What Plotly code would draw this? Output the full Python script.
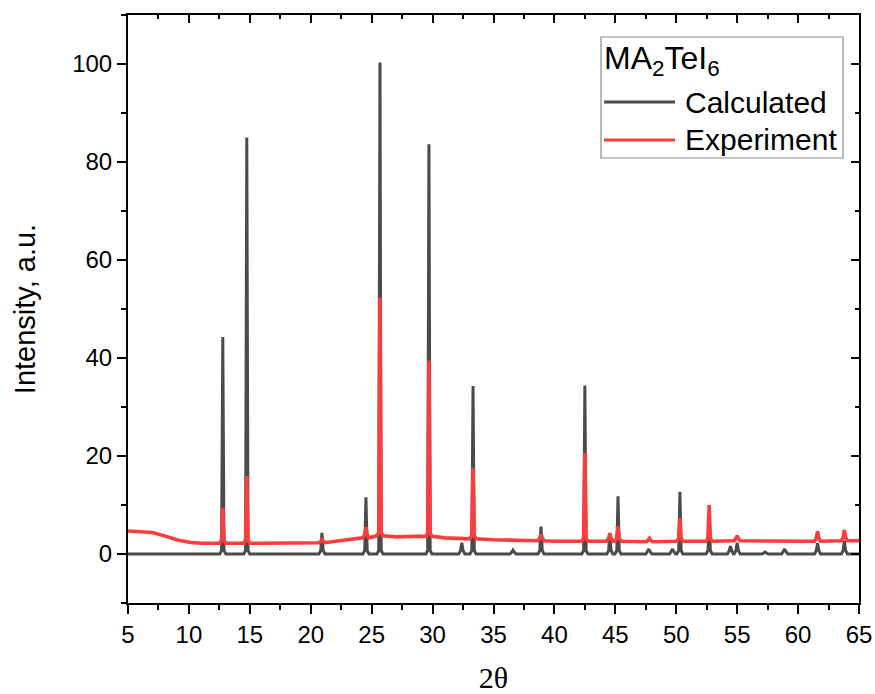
import plotly.graph_objects as go

# Calculated pattern: reflection positions (2θ, deg) and relative intensities
calc_pos = [12.78, 14.75, 20.92, 24.53, 25.68, 29.70, 32.40, 33.32, 36.60, 38.90,
            42.50, 44.55, 45.22, 47.75, 49.70, 50.30, 52.70, 54.45, 55.00, 57.30,
            58.90, 61.60, 63.80]
calc_int = [44.3, 85.0, 4.3, 11.6, 100.3, 83.6, 2.3, 34.3, 0.8, 5.6,
            34.4, 4.3, 11.8, 1.0, 1.0, 12.7, 7.3, 1.6, 2.3, 0.4,
            1.0, 2.2, 2.7]

# Experimental pattern: background level and observed peaks
bg_x = [5, 6, 7, 8, 9, 10, 11, 13, 16, 19, 21, 23, 24, 27, 28.5, 31, 35, 37, 40,
        44, 47, 50, 55, 60, 65]
bg_y = [4.7, 4.6, 4.4, 3.7, 2.9, 2.4, 2.2, 2.2, 2.2, 2.3, 2.5, 2.9, 3.2, 3.5, 3.6,
        3.3, 2.9, 2.7, 2.6, 2.6, 2.5, 2.6, 2.7, 2.6, 2.7]
exp_pos = [12.78, 14.75, 20.92, 24.53, 25.68, 29.70, 33.32, 38.90, 42.50, 44.55,
           45.22, 47.80, 50.30, 52.70, 55.00, 61.60, 63.80]
exp_int = [9.4, 15.9, 2.9, 5.5, 52.3, 39.5, 17.5, 4.0, 20.6, 4.2,
           5.7, 3.2, 7.3, 10.0, 3.7, 4.6, 4.9]
exp_base = [2.2, 2.2, 2.3, 3.3, 3.7, 3.6, 3.1, 2.7, 2.6, 2.6,
            2.6, 2.5, 2.6, 2.6, 2.7, 2.6, 2.7]

x_ticks = [5, 10, 15, 20, 25, 30, 35, 40, 45, 50, 55, 60, 65]
y_ticks = [0, 20, 40, 60, 80, 100]

FOOT = 0.25      # half-width of a peak at its base, deg
SHOULDER = 0.1   # half-width where the peak foot turns upward, deg


def peak_vertices(pos, top, base):
    lift = min(0.7, 0.5 * (top - base))
    return [(pos - FOOT, base), (pos - SHOULDER, base + lift), (pos, top),
            (pos + SHOULDER, base + lift), (pos + FOOT, base)]


def profile(positions, tops, bases, line_x, line_y):
    pts = [(x, y) for x, y in zip(line_x, line_y)
           if all(abs(x - p) > FOOT for p in positions)]
    for p, t, b in zip(positions, tops, bases):
        pts.extend(peak_vertices(p, t, b))
    pts.sort(key=lambda v: v[0])
    return [v[0] for v in pts], [v[1] for v in pts]


cx, cy = profile(calc_pos, calc_int, [0] * len(calc_pos), [5, 65], [0, 0])
ex, ey = profile(exp_pos, exp_int, exp_base, bg_x, bg_y)

GRAY = "#4b4b4b"
RED = "#fb3d3d"

fig = go.Figure()
fig.add_trace(go.Scatter(x=cx, y=cy, mode="lines", name="Calculated",
                         line=dict(color=GRAY, width=3), showlegend=False))
fig.add_trace(go.Scatter(x=ex, y=ey, mode="lines", name="Experiment",
                         line=dict(color=RED, width=3.6), showlegend=False))
# empty trace that carries the mirrored top/right axes
fig.add_trace(go.Scatter(x=[], y=[], xaxis="x2", yaxis="y2", showlegend=False))

axis_common = dict(showgrid=False, zeroline=False, showline=True, automargin=False,
                   linecolor="black", linewidth=2, tickcolor="black", tickwidth=2)

fig.update_layout(
    width=875, height=694,
    margin=dict(l=128, r=16, t=15, b=91),
    paper_bgcolor="white", plot_bgcolor="white",
    font=dict(family="Liberation Sans, Arial, sans-serif", color="black"),
    xaxis=dict(range=[5, 65], tickvals=x_ticks, ticks="outside", ticklen=9,
               minor=dict(dtick=2.5, tick0=5, ticklen=5, tickwidth=2,
                          tickcolor="black", ticks="outside"),
               tickfont=dict(size=24, family="Liberation Sans Narrow, Liberation Sans, Arial"),
               title=dict(text="2θ", standoff=22,
                          font=dict(size=30, family="Liberation Serif, Times New Roman, serif")),
               **axis_common),
    yaxis=dict(range=[-10, 110], tickvals=y_ticks, ticks="outside", ticklen=9,
               minor=dict(dtick=10, tick0=0, ticklen=5, tickwidth=2,
                          tickcolor="black", ticks="outside"),
               tickfont=dict(size=24),
               title=dict(text="Intensity, a.u.", standoff=28, font=dict(size=29)),
               **axis_common),
    xaxis2=dict(range=[5, 65], overlaying="x", side="top", anchor="y",
                tickvals=x_ticks, ticks="inside", ticklen=8, showticklabels=False,
                minor=dict(dtick=2.5, tick0=5, ticklen=4, tickwidth=2,
                           tickcolor="black", ticks="inside"),
                **axis_common),
    yaxis2=dict(range=[-10, 110], overlaying="y", side="right", anchor="x",
                tickvals=y_ticks, ticks="inside", ticklen=8, showticklabels=False,
                minor=dict(dtick=10, tick0=0, ticklen=4, tickwidth=2,
                           tickcolor="black", ticks="inside"),
                **axis_common),
)

# legend box with title and line samples
px_w, px_h = 731.0, 588.0


def px_to_paper(x, y):
    return (x - 128) / px_w, (603 - y) / px_h


bx0, by0 = px_to_paper(601, 158)
bx1, by1 = px_to_paper(843, 37)
fig.add_shape(type="rect", xref="paper", yref="paper", x0=bx0, y0=by0, x1=bx1, y1=by1,
              line=dict(color="#8c8c8c", width=1.2), fillcolor="white", layer="above")

legend_rows = [("Calculated", GRAY, 102), ("Experiment", RED, 140)]
for label, color, row_y in legend_rows:
    lx0, ly = px_to_paper(604, row_y)
    lx1, _ = px_to_paper(675, row_y)
    tx, _ = px_to_paper(683, row_y)
    fig.add_shape(type="line", xref="paper", yref="paper", x0=lx0, x1=lx1, y0=ly, y1=ly,
                  line=dict(color=color, width=3), layer="above")
    fig.add_annotation(xref="paper", yref="paper", x=tx, y=ly, text=label,
                       xanchor="left", yanchor="middle", showarrow=False,
                       font=dict(size=30, color="black"))

ttx, tty = px_to_paper(602, 60)
fig.add_annotation(xref="paper", yref="paper", x=ttx, y=tty,
                   text="MA<sub>2</sub>TeI<sub>6</sub>", xanchor="left", yanchor="middle",
                   showarrow=False, font=dict(size=32, color="black"))

fig.write_html("out.html")
